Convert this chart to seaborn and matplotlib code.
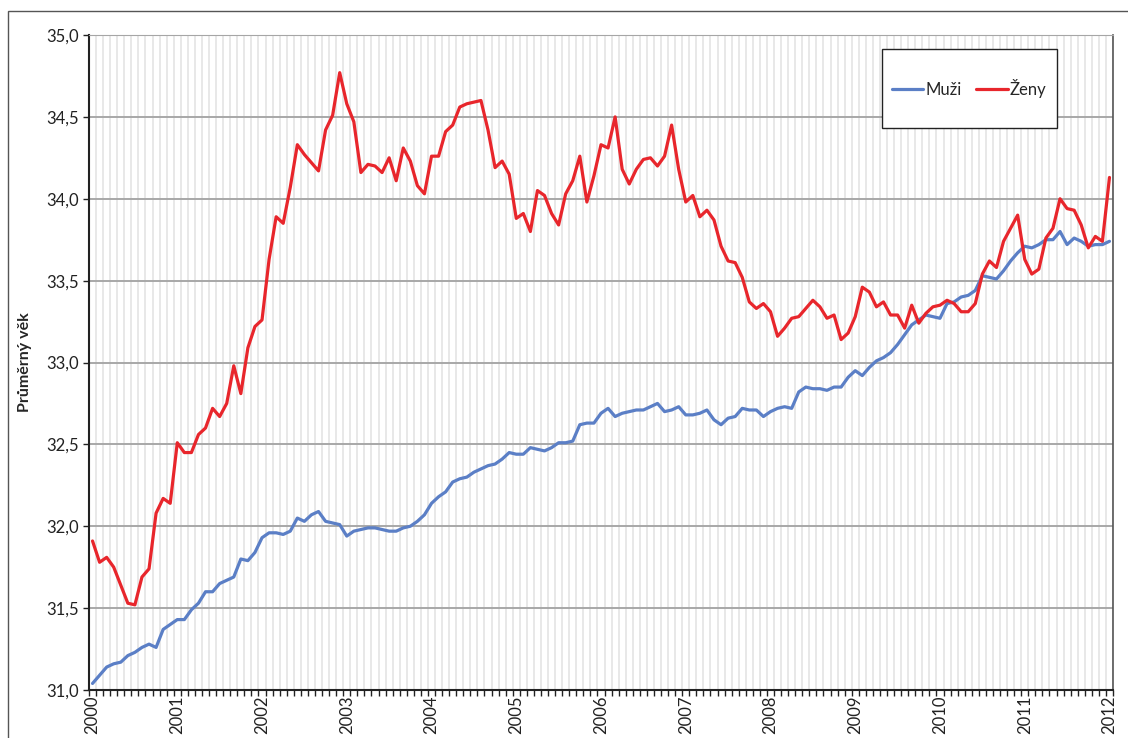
import matplotlib
matplotlib.use("Agg")
import matplotlib.pyplot as plt
from matplotlib.patches import Rectangle
from matplotlib.lines import Line2D
from matplotlib.ticker import FuncFormatter
import seaborn as sns
import numpy as np
import pandas as pd

# monthly values, Jan 2000 .. Jan 2012
muzi = [31.04, 31.09, 31.14, 31.16, 31.17, 31.21, 31.23, 31.26, 31.28, 31.26, 31.37, 31.40,
        31.43, 31.43, 31.49, 31.53, 31.60, 31.60, 31.65, 31.67, 31.69, 31.80, 31.79, 31.84,
        31.93, 31.96, 31.96, 31.95, 31.97, 32.05, 32.03, 32.07, 32.09, 32.03, 32.02, 32.01,
        31.94, 31.97, 31.98, 31.99, 31.99, 31.98, 31.97, 31.97, 31.99, 32.00, 32.03, 32.07,
        32.14, 32.18, 32.21, 32.27, 32.29, 32.30, 32.33, 32.35, 32.37, 32.38, 32.41, 32.45,
        32.44, 32.44, 32.48, 32.47, 32.46, 32.48, 32.51, 32.51, 32.52, 32.62, 32.63, 32.63,
        32.69, 32.72, 32.67, 32.69, 32.70, 32.71, 32.71, 32.73, 32.75, 32.70, 32.71, 32.73,
        32.68, 32.68, 32.69, 32.71, 32.65, 32.62, 32.66, 32.67, 32.72, 32.71, 32.71, 32.67,
        32.70, 32.72, 32.73, 32.72, 32.82, 32.85, 32.84, 32.84, 32.83, 32.85, 32.85, 32.91,
        32.95, 32.92, 32.97, 33.01, 33.03, 33.06, 33.11, 33.17, 33.23, 33.26, 33.29, 33.28,
        33.27, 33.36, 33.37, 33.40, 33.41, 33.44, 33.53, 33.52, 33.51, 33.56, 33.62, 33.67,
        33.71, 33.70, 33.72, 33.75, 33.75, 33.80, 33.72, 33.76, 33.74, 33.71, 33.72, 33.72,
        33.74]

zeny = [31.91, 31.78, 31.81, 31.75, 31.64, 31.53, 31.52, 31.69, 31.74, 32.08, 32.17, 32.14,
        32.51, 32.45, 32.45, 32.56, 32.60, 32.72, 32.67, 32.75, 32.98, 32.81, 33.09, 33.22,
        33.26, 33.63, 33.89, 33.85, 34.07, 34.33, 34.27, 34.22, 34.17, 34.42, 34.51, 34.77,
        34.58, 34.47, 34.16, 34.21, 34.20, 34.16, 34.25, 34.11, 34.31, 34.23, 34.08, 34.03,
        34.26, 34.26, 34.41, 34.45, 34.56, 34.58, 34.59, 34.60, 34.42, 34.19, 34.23, 34.15,
        33.88, 33.91, 33.80, 34.05, 34.02, 33.91, 33.84, 34.03, 34.11, 34.26, 33.98, 34.14,
        34.33, 34.31, 34.50, 34.18, 34.09, 34.18, 34.24, 34.25, 34.20, 34.26, 34.45, 34.18,
        33.98, 34.02, 33.89, 33.93, 33.87, 33.71, 33.62, 33.61, 33.52, 33.37, 33.33, 33.36,
        33.31, 33.16, 33.21, 33.27, 33.28, 33.33, 33.38, 33.34, 33.27, 33.29, 33.14, 33.18,
        33.28, 33.46, 33.43, 33.34, 33.37, 33.29, 33.29, 33.21, 33.35, 33.24, 33.30, 33.34,
        33.35, 33.38, 33.36, 33.31, 33.31, 33.36, 33.54, 33.62, 33.58, 33.74, 33.82, 33.90,
        33.63, 33.54, 33.57, 33.76, 33.82, 34.00, 33.94, 33.93, 33.84, 33.70, 33.77, 33.74,
        34.13]

roky = [str(r) for r in range(2000, 2013)]
serie = ["Muži", "Ženy"]
barvy = {"Muži": "#5b7fc6", "Ženy": "#e8262c"}

df = pd.DataFrame({
    "mesic": list(range(len(muzi))) * 2,
    "vek": muzi + zeny,
    "pohlavi": [serie[0]] * len(muzi) + [serie[1]] * len(zeny),
})

sns.set_style("white")
plt.rcParams["font.family"] = ["Lato", "DejaVu Sans"]

fig = plt.figure(figsize=(11.28, 7.38), dpi=100)
ax = fig.add_axes([89 / 1128, 1 - 690 / 738, 1024 / 1128, 655 / 738])

sns.lineplot(data=df, x="mesic", y="vek", hue="pohlavi", palette=barvy,
             linewidth=2.3, legend=False, ax=ax)

ax.set_xlim(-0.5, len(muzi) - 0.5)
ax.set_ylim(31.0, 35.0)
ax.set_yticks(np.arange(31.0, 35.01, 0.5))
ax.yaxis.set_major_formatter(FuncFormatter(lambda v, p: f"{v:.1f}".replace(".", ",")))

ax.set_xticks(np.arange(0, len(muzi), 12))
ax.set_xticklabels(roky, rotation=90)
ax.set_xticks(np.arange(-0.5, len(muzi), 1), minor=True)

ax.grid(False)
ax.xaxis.grid(True, which="minor", color="#e6e6e6", linewidth=1.3)
ax.yaxis.grid(True, which="major", color="#a8a8a8", linewidth=1.4)
ax.set_axisbelow(True)

ax.tick_params(axis="x", which="major", length=0, labelsize=12, pad=4, colors="#222222")
ax.tick_params(axis="x", which="minor", length=4, width=1, direction="out", color="#222222", bottom=True)
ax.tick_params(axis="y", which="major", length=4, width=1, direction="out", labelsize=12,
               left=True, colors="#222222")

for s in ["left", "bottom"]:
    ax.spines[s].set_color("#222222")
    ax.spines[s].set_linewidth(1.5)
ax.spines["top"].set_color("#a6a6a6")
ax.spines["right"].set_color("#555555")
ax.spines["right"].set_linewidth(1.2)

ax.set_xlabel("")
ax.set_ylabel("Průměrný věk", fontsize=11.5, fontweight="bold", labelpad=10)

# legend box
ax.add_patch(Rectangle((0.774, 0.858), 0.171, 0.121, transform=ax.transAxes,
                       facecolor="white", edgecolor="#222222", linewidth=1, zorder=5))
handles = [Line2D([], [], color=barvy[s], linewidth=2.3) for s in serie]
ax.legend(handles, serie, loc="center", bbox_to_anchor=(0.8595, 0.9185), ncol=2,
          frameon=False, fontsize=12, handlelength=1.9, handletextpad=0.1,
          columnspacing=0.9).set_zorder(6)

# outer chart frame
fig.patches.append(Rectangle((8 / 1128, -0.1), 1.2, 1 - 11 / 738 + 0.1, transform=fig.transFigure,
                             fill=False, edgecolor="#555555", linewidth=1))

fig.savefig("out.png", dpi=100)
